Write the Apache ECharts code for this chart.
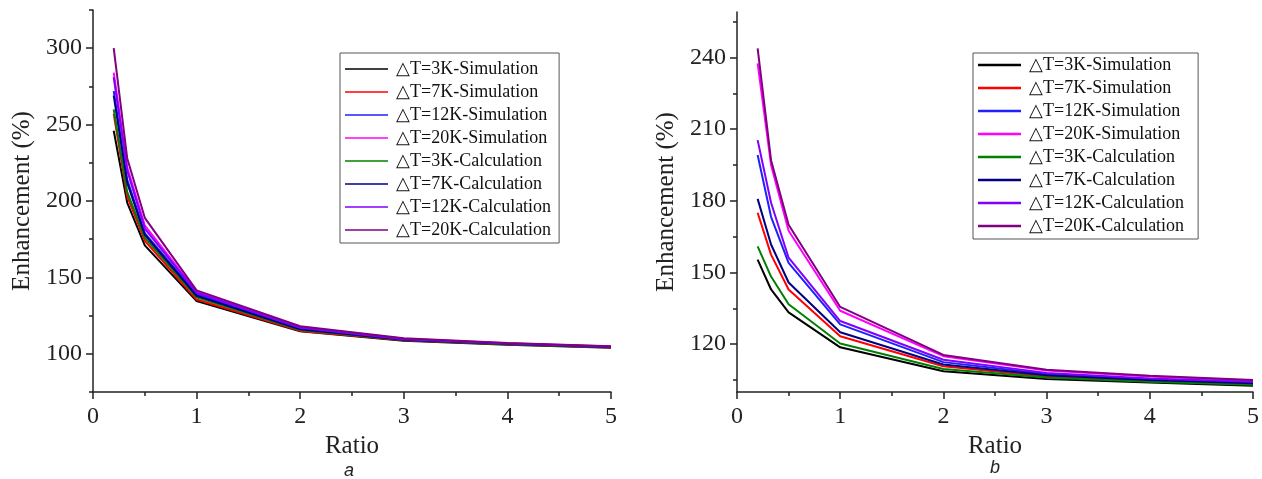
<!DOCTYPE html>
<html>
<head>
<meta charset="utf-8">
<title>Enhancement vs Ratio</title>
<script src="https://cdn.jsdelivr.net/npm/echarts@6/dist/echarts.min.js"></script>
<style>
html, body { margin: 0; padding: 0; background: #fff; }
#main { width: 1262px; height: 479px; }
</style>
</head>
<body>
<div id="main"></div>
<script>
// x values shared by every curve
var ratio = [0.2, 0.33, 0.5, 1, 2, 3, 4, 5];

var names = [
    '\u25B3T=3K-Simulation', '\u25B3T=7K-Simulation', '\u25B3T=12K-Simulation', '\u25B3T=20K-Simulation',
    '\u25B3T=3K-Calculation', '\u25B3T=7K-Calculation', '\u25B3T=12K-Calculation', '\u25B3T=20K-Calculation'
];
var colors = ['#000000', '#ff0000', '#2020ff', '#ff00ff', '#008000', '#000080', '#8000ff', '#800080'];

// panel a
var a3Sim   = [246, 199, 171, 134.5, 114.8, 108.5, 106.0, 104.0];
var a7Sim   = [257, 203, 174, 135.5, 115.0, 108.8, 106.2, 104.2];
var a12Sim  = [272, 214, 179, 139.0, 116.5, 109.3, 106.6, 104.5];
var a20Sim  = [284, 222, 184, 140.5, 117.5, 109.8, 106.9, 104.7];
var a3Calc  = [260, 206, 176, 137.0, 115.5, 109.0, 106.3, 104.3];
var a7Calc  = [269, 212, 178, 138.0, 116.0, 109.2, 106.5, 104.4];
var a12Calc = [281, 220, 182, 140.0, 117.0, 109.6, 106.8, 104.6];
var a20Calc = [300, 228, 189, 141.5, 118.0, 110.2, 107.0, 105.0];

// panel b
var b3Sim   = [155.4, 142.9, 133.3, 118.7, 108.7, 105.4, 104.0, 102.6];
var b7Sim   = [175.0, 157.5, 142.9, 123.3, 110.8, 106.5, 104.6, 103.5];
var b12Sim  = [199.2, 173.3, 154.0, 128.3, 112.5, 107.5, 105.3, 104.0];
var b20Sim  = [237.5, 195.0, 167.5, 134.0, 115.0, 109.0, 106.5, 104.8];
var b3Calc  = [160.9, 148.3, 136.7, 120.3, 109.6, 106.1, 104.3, 103.0];
var b7Calc  = [180.8, 161.7, 145.8, 125.0, 111.5, 107.0, 105.0, 103.7];
var b12Calc = [205.4, 179.2, 156.2, 129.7, 113.5, 108.0, 105.7, 104.3];
var b20Calc = [243.8, 197.0, 170.0, 135.6, 115.5, 109.3, 106.8, 105.0];

// tick values
var aMajorTicks = [100, 150, 200, 250, 300];
var aMinorTicks = [75, 125, 175, 225, 275, 325];
var bMajorTicks = [120, 150, 180, 210, 240];
var bMinorTicks = [105, 135, 165, 195, 225, 255];

var panelA = [a3Sim, a7Sim, a12Sim, a20Sim, a3Calc, a7Calc, a12Calc, a20Calc];
var panelB = [b3Sim, b7Sim, b12Sim, b20Sim, b3Calc, b7Calc, b12Calc, b20Calc];

var serif = 'Liberation Serif';
var ink = '#222';

function pairs(ys) {
    return ratio.map(function (x, i) { return [x, ys[i]]; });
}

function xAxisFor(gi) {
    return {
        gridIndex: gi, type: 'value', min: 0, max: 5, interval: 1,
        name: 'Ratio', nameLocation: 'middle', nameGap: 37,
        nameTextStyle: { fontFamily: serif, fontSize: 25, color: ink },
        axisLine: { lineStyle: { color: ink, width: 1.5 } },
        axisTick: { length: 7, lineStyle: { color: ink, width: 1.5 } },
        minorTick: { show: true, splitNumber: 2, length: 4, lineStyle: { color: ink, width: 1.5 } },
        axisLabel: { fontFamily: serif, fontSize: 24, color: ink, margin: 13 },
        splitLine: { show: false }
    };
}

function yAxisMain(gi, min, max, major) {
    return {
        gridIndex: gi, type: 'value', min: min, max: max, position: 'left',
        name: 'Enhancement (%)', nameLocation: 'middle', nameGap: 58,
        nameTextStyle: { fontFamily: serif, fontSize: 25, color: ink },
        axisLine: { show: true, lineStyle: { color: ink, width: 1.5 } },
        axisTick: { show: true, length: 7, customValues: major, lineStyle: { color: ink, width: 1.5 } },
        axisLabel: { fontFamily: serif, fontSize: 24, color: ink, margin: 11, customValues: major },
        splitLine: { show: false }
    };
}

function yAxisMinor(gi, min, max, minor) {
    return {
        gridIndex: gi, type: 'value', min: min, max: max, position: 'left', offset: 0,
        axisLine: { show: false },
        axisTick: { show: true, length: 4, customValues: minor, lineStyle: { color: ink, width: 1.5 } },
        axisLabel: { show: false },
        splitLine: { show: false }
    };
}

function legendFor(left, top, padTop, padRight, lineW) {
    return {
        orient: 'vertical', left: left, top: top,
        data: names,
        icon: 'rect',
        borderColor: '#555', borderWidth: 1,
        padding: [padTop, padRight, 4, 5],
        itemWidth: 43, itemHeight: lineW, itemGap: 5,
        textStyle: { fontFamily: serif, fontSize: 18, lineHeight: 17, color: '#111', padding: [0, 0, 0, 3] }
    };
}

var series = [];
panelA.forEach(function (ys, i) {
    series.push({
        name: names[i], type: 'line', xAxisIndex: 0, yAxisIndex: 0,
        symbol: 'none', data: pairs(ys),
        lineStyle: { color: colors[i], width: 2 }, itemStyle: { color: colors[i] }
    });
});
panelB.forEach(function (ys, i) {
    series.push({
        name: names[i], type: 'line', xAxisIndex: 1, yAxisIndex: 2,
        symbol: 'none', data: pairs(ys),
        lineStyle: { color: colors[i], width: 2 }, itemStyle: { color: colors[i] }
    });
});

var option = {
    backgroundColor: '#fff',
    animation: false,
    grid: [
        { left: 93, right: 651, top: 10, bottom: 87 },
        { left: 737, right: 8, top: 12, bottom: 87 }
    ],
    xAxis: [xAxisFor(0), xAxisFor(1)],
    yAxis: [
        yAxisMain(0, 75, 325, aMajorTicks),
        yAxisMinor(0, 75, 325, aMinorTicks),
        yAxisMain(1, 100, 259, bMajorTicks),
        yAxisMinor(1, 100, 259, bMinorTicks)
    ],
    legend: [legendFor(340, 53, 7, 8, 1.5), legendFor(973, 53, 3, 14, 2.5)],
    graphic: [
        { type: 'text', x: 349, y: 471, style: { text: 'a', font: 'italic 18px "Liberation Sans"', fill: ink, align: 'center', verticalAlign: 'middle' } },
        { type: 'text', x: 995, y: 468, style: { text: 'b', font: 'italic 18px "Liberation Sans"', fill: ink, align: 'center', verticalAlign: 'middle' } }
    ],
    series: series
};

var chart = echarts.init(document.getElementById('main'));
chart.setOption(option);
window.onresize = function () {
    chart.resize();
};
</script>
</body>
</html>
